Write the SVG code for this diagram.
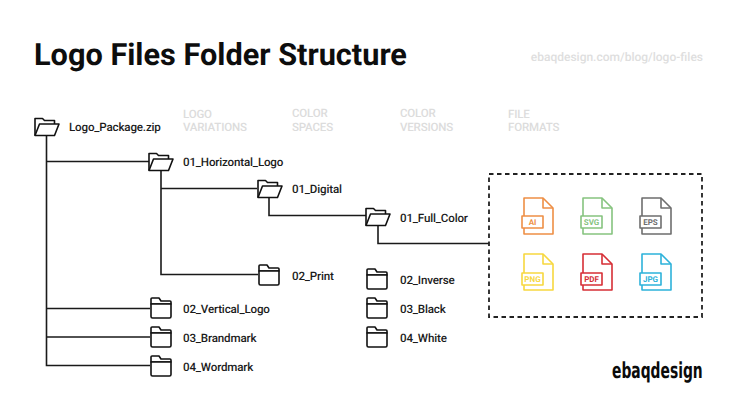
<svg xmlns="http://www.w3.org/2000/svg" width="735" height="413" viewBox="0 0 735 413">
<style>
text{font-family:Roboto,"Liberation Sans",sans-serif;text-rendering:geometricPrecision}
.t{font-size:11.600px;font-weight:500;fill:#1c1c1c;letter-spacing:-.17px}
.h{font-size:11.500px;font-weight:500;fill:#dcdcdc;letter-spacing:-.17px}
.c{fill:none;stroke:#1a1a1a;stroke-width:1.600}
.f{fill:#fff;stroke:#111;stroke-width:1.600;stroke-linejoin:round}
.fi{fill:#fff;stroke-width:1.600;stroke-linejoin:round}
.l{font-size:8px;font-weight:700;text-anchor:middle}
</style>
<defs>
<g id="open"><path class="f" d="M1 18.500V1.500H8.500L10.500 3.500H20.500V7"/><path class="f" d="M1 18.500L5.500 7H25L20.500 18.500Z"/></g>
<g id="closed"><path class="f" d="M1 5V2Q1 1 2 1H9L11 4H20Q21 4 21 5V7H1Z"/><path class="f" d="M1 7H21V19.500Q21 21 19.500 21H2.500Q1 21 1 19.500Z"/></g>
<g id="file"><path class="fi" d="M3 1H22L32 11V37H3Z"/><path class="fi" d="M22 1V11H32" style="fill:none"/></g>
</defs>
<rect width="735" height="413" fill="#fff"/>
<text x="34" y="65" font-size="30.700" font-weight="700" fill="#0d0d0d">Logo Files Folder Structure</text>
<text x="703" y="61" font-size="12" font-weight="500" fill="#dedede" text-anchor="end">ebaqdesign.com/blog/logo-files</text>
<g id="headers">
<text class="h" x="183" y="118">LOGO</text><text class="h" x="183" y="131">VARIATIONS</text>
<text class="h" x="292" y="117">COLOR</text><text class="h" x="292" y="131">SPACES</text>
<text class="h" x="400" y="117">COLOR</text><text class="h" x="400" y="131">VERSIONS</text>
<text class="h" x="508" y="118">FILE</text><text class="h" x="508" y="131">FORMATS</text>
</g>
<g id="connectors">
<path class="c" d="M46.500 136V365.500H150M46.500 161.500H149M46.500 308.500H150M46.500 337H150"/>
<path class="c" d="M161 170V274.500H258M161 188.500H257"/>
<path class="c" d="M269 198V215.500H366"/>
<path class="c" d="M378 226V243.500H489"/>
</g>
<g id="n-root"><use href="#open" x="34" y="117"/><text class="t" x="69" y="131">Logo_Package.zip</text></g>
<g id="n-horizontal"><use href="#open" x="148" y="152"/><text class="t" x="183" y="166">01_Horizontal_Logo</text></g>
<g id="n-digital"><use href="#open" x="257" y="179"/><text class="t" x="292" y="193">01_Digital</text></g>
<g id="n-fullcolor"><use href="#open" x="365" y="207"/><text class="t" x="400" y="222">01_Full_Color</text></g>
<g id="n-print"><use href="#closed" x="258" y="264"/><text class="t" x="292" y="280">02_Print</text></g>
<g id="n-inverse"><use href="#closed" x="366" y="268"/><text class="t" x="400" y="284">02_Inverse</text></g>
<g id="n-black"><use href="#closed" x="366" y="297"/><text class="t" x="400" y="313">03_Black</text></g>
<g id="n-white"><use href="#closed" x="366" y="326"/><text class="t" x="400" y="342">04_White</text></g>
<g id="n-vertical"><use href="#closed" x="150" y="297"/><text class="t" x="183" y="313">02_Vertical_Logo</text></g>
<g id="n-brandmark"><use href="#closed" x="150" y="326"/><text class="t" x="183" y="342">03_Brandmark</text></g>
<g id="n-wordmark"><use href="#closed" x="150" y="355"/><text class="t" x="183" y="371">04_Wordmark</text></g>
<g id="n-formats">
<rect x="489" y="174" width="213" height="143" fill="none" stroke="#222" stroke-width="1.800" stroke-dasharray="4.500 3.500"/>
<g stroke="#ee8f45" fill="#ee8f45"><use href="#file" x="521" y="197"/><rect class="fi" x="522" y="216" width="21" height="12"/><text class="l" x="532.500" y="225" stroke="none">AI</text></g>
<g stroke="#86c47f" fill="#86c47f"><use href="#file" x="580" y="197"/><rect class="fi" x="581" y="216" width="21" height="12"/><text class="l" x="591.500" y="225" stroke="none">SVG</text></g>
<g stroke="#6e6e6e" fill="#6e6e6e"><use href="#file" x="639" y="197"/><rect class="fi" x="640" y="216" width="21" height="12"/><text class="l" x="650.500" y="225" stroke="none">EPS</text></g>
<g stroke="#f7d83f" fill="#f7d83f"><use href="#file" x="521" y="253"/><rect class="fi" x="522" y="273" width="21" height="12"/><text class="l" x="532.500" y="282" stroke="none">PNG</text></g>
<g stroke="#d62f36" fill="#d62f36"><use href="#file" x="580" y="253"/><rect class="fi" x="581" y="273" width="21" height="12"/><text class="l" x="591.500" y="282" stroke="none">PDF</text></g>
<g stroke="#2db2da" fill="#2db2da"><use href="#file" x="639" y="253"/><rect class="fi" x="640" y="273" width="21" height="12"/><text class="l" x="650.500" y="282" stroke="none">JPG</text></g>
</g>
<text transform="translate(612 378) scale(.7 1)" font-size="22" font-weight="700" fill="#0b0b0b" style="font-family:'DejaVu Sans Condensed','DejaVu Sans',sans-serif">ebaqdesign</text>
</svg>
